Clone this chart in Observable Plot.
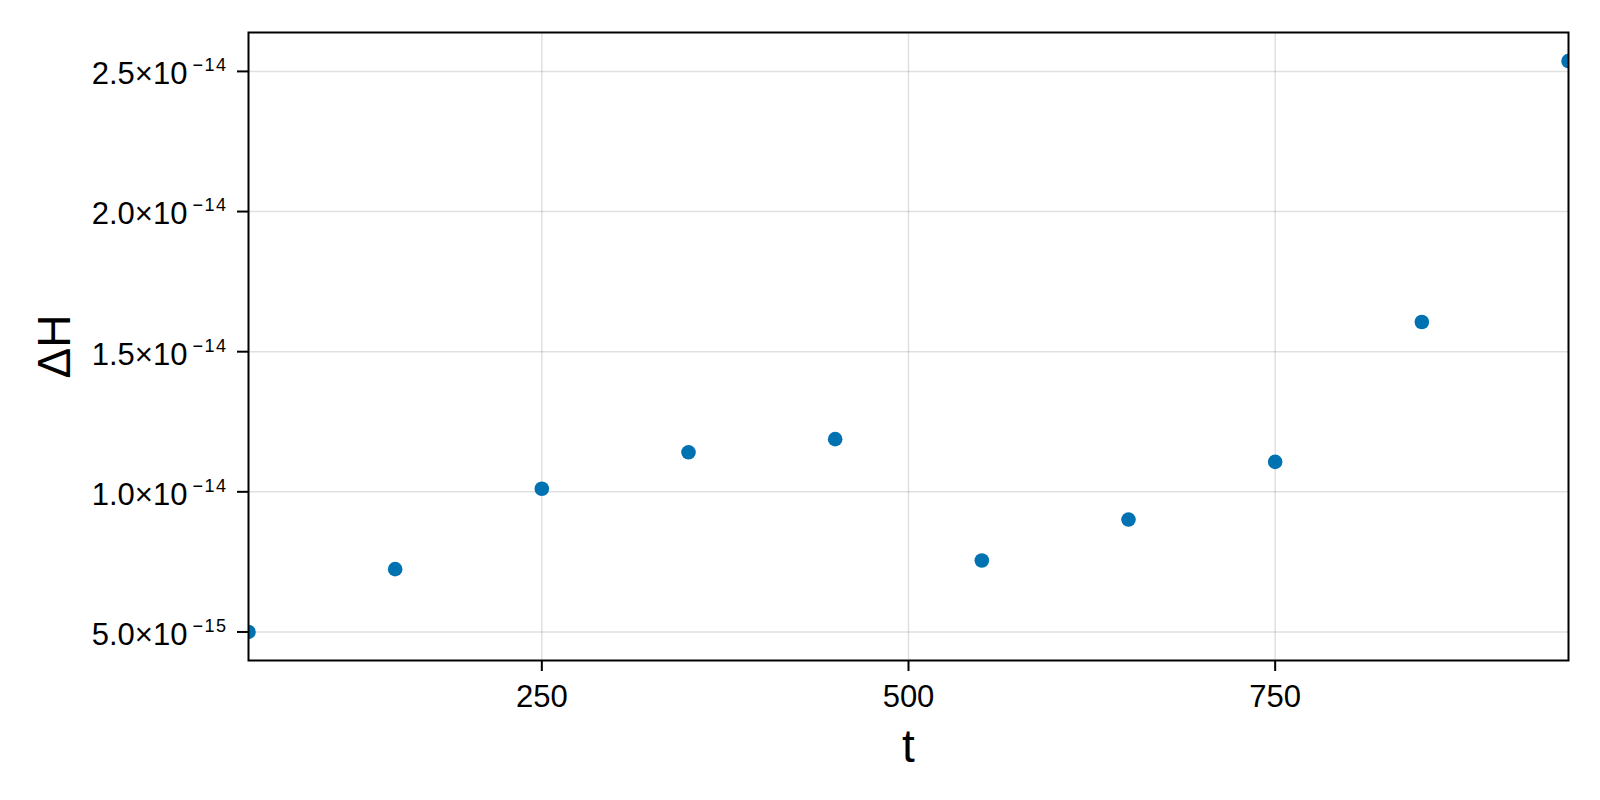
<!DOCTYPE html>
<html>
<head>
<meta charset="utf-8">
<script src="https://cdn.jsdelivr.net/npm/d3@7"></script>
<script src="https://cdn.jsdelivr.net/npm/@observablehq/plot@0.6"></script>
<style>
  html, body { margin: 0; padding: 0; background: white; }
</style>
</head>
<body>
<div id="chart"></div>
<script>
// Data
const tValues = [50, 150, 250, 350, 450, 550, 650, 750, 850, 950];
const dHValues = [5.0e-15, 7.24e-15, 1.011e-14, 1.141e-14, 1.188e-14, 7.55e-15, 9.01e-15, 1.107e-14, 1.606e-14, 2.537e-14];
const xTicks = [250, 500, 750];
const yTicks = [5e-15, 1e-14, 1.5e-14, 2e-14, 2.5e-14];
const xLabel = "t";
const yLabel = "ΔH";

const data = tValues.map((t, i) => ({t, dH: dHValues[i]}));

// Makie-like autolimits: 5% padding on y
const [yMin, yMax] = d3.extent(dHValues);
const pad = (yMax - yMin) * 0.05;

function sciFormat(v) {
  const e = Math.floor(Math.log10(v) + 1e-9);
  const m = v / Math.pow(10, e);
  return m.toFixed(1) + "×10^" + e;
}

const font = "'Liberation Sans', Arial, Helvetica, sans-serif";

const chart = Plot.plot({
  width: 1600,
  height: 800,
  marginLeft: 248,
  marginRight: 32,
  marginTop: 32,
  marginBottom: 140,
  style: {fontFamily: font, fontSize: "31px", color: "black", background: "white"},
  x: {domain: [50, 950]},
  y: {domain: [yMin - pad, yMax + pad]},
  marks: [
    Plot.gridX(xTicks, {stroke: "black", strokeOpacity: 0.12, strokeWidth: 1.5}),
    Plot.gridY(yTicks, {stroke: "black", strokeOpacity: 0.12, strokeWidth: 1.5}),
    Plot.dot(data, {x: "t", y: "dH", r: 7.3, fill: "#0072b2", stroke: "none", clip: true}),
    Plot.frame({stroke: "black", strokeWidth: 2}),
    Plot.axisX(xTicks, {tickSize: 11, tickPadding: 13, strokeWidth: 2, fontSize: 31, label: null, tickFormat: d => String(d)}),
    Plot.axisY(yTicks, {tickSize: 11, tickPadding: 10, strokeWidth: 2, fontSize: 31, label: null, tickFormat: sciFormat}),
    Plot.text([xLabel], {frameAnchor: "bottom", text: d => d, dy: 101, lineAnchor: "bottom", textAnchor: "middle", fontSize: 46}),
    Plot.text([yLabel], {frameAnchor: "left", text: d => d, dx: -193, rotate: -90, lineAnchor: "middle", textAnchor: "middle", fontSize: 46})
  ]
});

document.getElementById("chart").appendChild(chart);

// Render "m×10^e" as superscripted exponents
const svgNS = "http://www.w3.org/2000/svg";
chart.querySelectorAll('g[aria-label="y-axis tick label"] text').forEach(el => {
  const s = el.textContent;
  const idx = s.indexOf("^");
  if (idx < 0) return;
  const base = s.slice(0, idx);
  const exp = s.slice(idx + 1).replace("-", "\u2212");
  el.textContent = "";
  const t1 = document.createElementNS(svgNS, "tspan");
  t1.textContent = base;
  t1.setAttribute("dy", "3");
  const t2 = document.createElementNS(svgNS, "tspan");
  t2.textContent = exp;
  t2.setAttribute("font-size", "18");
  t2.setAttribute("letter-spacing", "1.5");
  t2.setAttribute("dx", "5");
  t2.setAttribute("dy", "-13");
  el.appendChild(t1);
  el.appendChild(t2);
});
</script>
</body>
</html>
